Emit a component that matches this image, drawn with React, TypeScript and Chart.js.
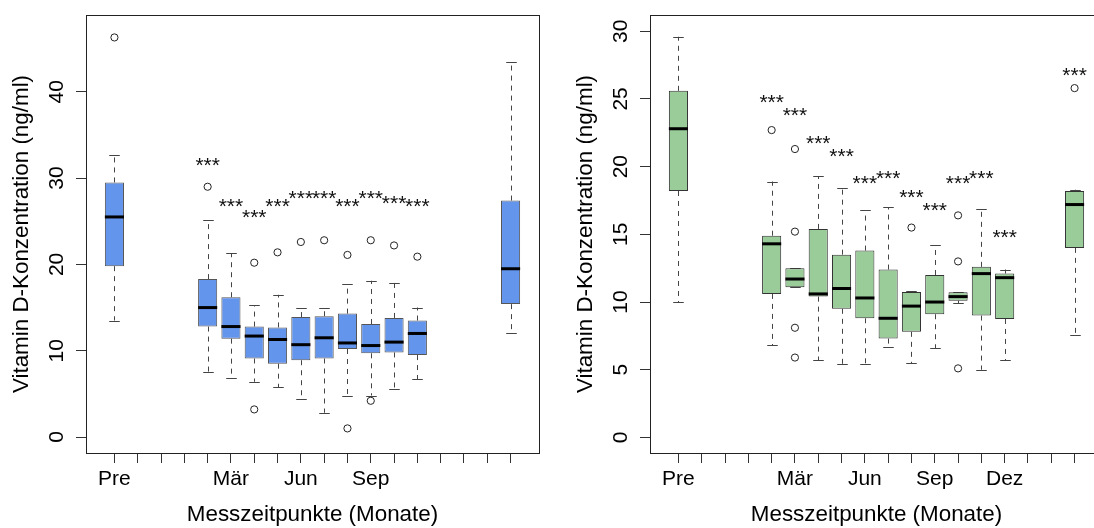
import React, { useEffect, useRef } from 'react';
import { Chart, registerables } from 'chart.js';

Chart.register(...registerables);

const FONT = "'Liberation Sans', Arial, Helvetica, sans-serif";
const TICK_SIZE = 21;
const TITLE_SIZE = 22.4;
const STAR_SIZE = 21;

const yTitle = 'Vitamin D-Konzentration (ng/ml)';
const xTitle = 'Messzeitpunkte (Monate)';

// x tick positions (1..18) and their labels
const xTickPositions = [1, 2, 3, 4, 5, 6, 7, 8, 9, 10, 11, 12, 13, 14, 15, 16, 17, 18];
const leftTickLabels = ['Pre', '', '', '', '', 'Mär', '', '', 'Jun', '', '', 'Sep', '', '', '', '', '', ''];
const rightTickLabels = ['Pre', '', '', '', '', 'Mär', '', '', 'Jun', '', '', 'Sep', '', '', 'Dez', '', '', ''];
const leftYTicks = [0, 10, 20, 30, 40];
const rightYTicks = [0, 5, 10, 15, 20, 25, 30];

// ---- Left panel (blue) ----
const leftPositions = [1, 5, 6, 7, 8, 9, 10, 11, 12, 13, 14, 18];
const leftWhiskerLow = [13.5, 7.5, 6.8, 6.4, 5.8, 4.4, 2.8, 4.7, 4.8, 5.6, 6.7, 12.0];
const leftQ1 = [19.8, 12.8, 11.4, 9.1, 8.5, 8.9, 9.1, 10.2, 9.7, 9.8, 9.5, 15.4];
const leftMedian = [25.5, 15.0, 12.8, 11.7, 11.3, 10.7, 11.5, 10.9, 10.6, 11.0, 12.0, 19.5];
const leftQ3 = [29.5, 18.3, 16.2, 12.8, 12.7, 13.9, 14.0, 14.3, 13.1, 13.8, 13.5, 27.4];
const leftWhiskerHigh = [32.7, 25.1, 21.3, 15.3, 16.5, 15.0, 15.0, 17.7, 18.1, 17.9, 15.0, 43.4];
const leftOutlierPos = [1, 5, 7, 7, 8, 9, 10, 11, 11, 12, 12, 13, 14];
const leftOutlierVal = [46.3, 29.0, 20.2, 3.2, 21.4, 22.6, 22.8, 21.1, 1.0, 22.8, 4.2, 22.2, 20.9];
const leftStarPos = [5, 6, 7, 8, 9, 10, 11, 12, 13, 14];
const leftStarVal = [31.9, 27.1, 25.9, 27.1, 28.1, 28.1, 27.1, 28.1, 27.5, 27.1];

// ---- Right panel (green) ----
const rightPositions = [1, 5, 6, 7, 8, 9, 10, 11, 12, 13, 14, 15, 18];
const rightWhiskerLow = [10.0, 6.8, 11.1, 5.7, 5.4, 5.4, 6.7, 5.5, 6.6, 9.9, 5.0, 5.7, 7.6];
const rightQ1 = [18.2, 10.6, 11.1, 10.4, 9.5, 8.8, 7.3, 7.8, 9.1, 10.1, 9.0, 8.75, 14.0];
const rightMedian = [22.8, 14.3, 11.7, 10.6, 11.0, 10.3, 8.8, 9.7, 10.0, 10.4, 12.1, 11.8, 17.2];
const rightQ3 = [25.6, 14.9, 12.5, 15.4, 13.5, 13.8, 12.4, 10.75, 12.0, 10.72, 12.6, 12.1, 18.2];
const rightWhiskerHigh = [29.6, 18.9, 12.5, 19.3, 18.4, 16.8, 17.0, 10.8, 14.2, 10.75, 16.9, 12.4, 18.3];
const rightOutlierPos = [5, 6, 6, 6, 6, 11, 13, 13, 13, 18];
const rightOutlierVal = [22.7, 21.3, 15.2, 8.1, 5.9, 15.5, 16.4, 13.0, 5.1, 25.8];
const rightStarPos = [5, 6, 7, 8, 9, 10, 11, 12, 13, 14, 15, 18];
const rightStarVal = [25.0, 24.0, 22.0, 21.0, 19.0, 19.4, 18.0, 17.0, 19.0, 19.4, 15.0, 27.0];

type Panel = {
  positions: number[];
  low: number[];
  q1: number[];
  med: number[];
  q3: number[];
  high: number[];
  outPos: number[];
  outVal: number[];
  starPos: number[];
  starVal: number[];
  yMin: number;
  yMax: number;
  yTicks: number[];
  tickLabels: string[];
  fill: string;
  border: string;
  whisker: string;
};

const leftPanel: Panel = {
  positions: leftPositions, low: leftWhiskerLow, q1: leftQ1, med: leftMedian, q3: leftQ3, high: leftWhiskerHigh,
  outPos: leftOutlierPos, outVal: leftOutlierVal, starPos: leftStarPos, starVal: leftStarVal,
  yMin: -1.85, yMax: 48.9, yTicks: leftYTicks, tickLabels: leftTickLabels,
  fill: '#6495ED', border: '#555555', whisker: '#444444',
};

const rightPanel: Panel = {
  positions: rightPositions, low: rightWhiskerLow, q1: rightQ1, med: rightMedian, q3: rightQ3, high: rightWhiskerHigh,
  outPos: rightOutlierPos, outVal: rightOutlierVal, starPos: rightStarPos, starVal: rightStarVal,
  yMin: -1.15, yMax: 31.2, yTicks: rightYTicks, tickLabels: rightTickLabels,
  fill: '#99CC99', border: '#333333', whisker: '#444444',
};

function line(ctx: CanvasRenderingContext2D, x1: number, y1: number, x2: number, y2: number) {
  ctx.beginPath();
  ctx.moveTo(x1, y1);
  ctx.lineTo(x2, y2);
  ctx.stroke();
}

function makePlugin(p: Panel) {
  return {
    id: 'boxExtras',
    beforeDatasetsDraw(chart: any) {
      const ctx: CanvasRenderingContext2D = chart.ctx;
      const ys = chart.scales.y;
      const meta = chart.getDatasetMeta(0);
      ctx.save();
      ctx.strokeStyle = p.whisker;
      ctx.lineWidth = 1;
      meta.data.forEach((bar: any, i: number) => {
        const { x: cx, width } = bar.getProps(['x', 'width'], true);
        const px = Math.round(cx) + 0.5;
        const yLow = ys.getPixelForValue(p.low[i]);
        const yQ1 = ys.getPixelForValue(p.q1[i]);
        const yQ3 = ys.getPixelForValue(p.q3[i]);
        const yHigh = ys.getPixelForValue(p.high[i]);
        ctx.setLineDash([5, 5]);
        line(ctx, px, yQ3, px, yHigh);
        line(ctx, px, yQ1, px, yLow);
        ctx.setLineDash([]);
        const cw = width * 0.5 + 1;
        line(ctx, px - cw / 2, Math.round(yHigh) + 0.5, px + cw / 2, Math.round(yHigh) + 0.5);
        line(ctx, px - cw / 2, Math.round(yLow) + 0.5, px + cw / 2, Math.round(yLow) + 0.5);
      });
      ctx.restore();
    },
    afterDatasetsDraw(chart: any) {
      const ctx: CanvasRenderingContext2D = chart.ctx;
      const xs = chart.scales.x;
      const ys = chart.scales.y;
      const meta = chart.getDatasetMeta(0);
      ctx.save();
      // medians
      ctx.strokeStyle = '#000000';
      ctx.lineWidth = 3;
      ctx.lineCap = 'butt';
      meta.data.forEach((bar: any, i: number) => {
        const { x: cx, width } = bar.getProps(['x', 'width'], true);
        const ym = ys.getPixelForValue(p.med[i]);
        line(ctx, cx - width / 2, ym, cx + width / 2, ym);
      });
      // significance stars
      ctx.font = `${STAR_SIZE}px ${FONT}`;
      ctx.fillStyle = '#111111';
      ctx.textAlign = 'center';
      ctx.textBaseline = 'alphabetic';
      const m = ctx.measureText('***');
      const asc = m.actualBoundingBoxAscent;
      const desc = m.actualBoundingBoxDescent;
      p.starPos.forEach((pos, i) => {
        const sx = xs.getPixelForValue(pos);
        const sy = ys.getPixelForValue(p.starVal[i]);
        ctx.fillText('***', sx, sy + (asc - desc) / 2);
      });
      // frame
      const a = chart.chartArea;
      ctx.strokeStyle = '#222222';
      ctx.lineWidth = 1;
      ctx.strokeRect(Math.round(a.left) + 0.5, Math.round(a.top) + 0.5, Math.round(a.right - a.left), Math.round(a.bottom - a.top));
      ctx.restore();
    },
  };
}

function makeConfig(p: Panel): any {
  const tickFont = { family: FONT, size: TICK_SIZE };
  const titleFont = { family: FONT, size: TITLE_SIZE };
  return {
    type: 'bar',
    data: {
      datasets: [
        {
          type: 'bar',
          data: p.positions.map((pos, i) => ({ x: pos, y: [p.q1[i], p.q3[i]] })),
          backgroundColor: p.fill,
          borderColor: p.border,
          borderWidth: 1,
          borderSkipped: false,
          barPercentage: 0.82,
          categoryPercentage: 1,
        },
        {
          type: 'scatter',
          data: p.outPos.map((pos, i) => ({ x: pos, y: p.outVal[i] })),
          pointStyle: 'circle',
          pointRadius: 3.6,
          pointBorderWidth: 1,
          pointBorderColor: '#222222',
          pointBackgroundColor: 'rgba(0,0,0,0)',
          showLine: false,
        },
      ],
    },
    options: {
      animation: false,
      responsive: false,
      devicePixelRatio: 1,
      events: [],
      layout: { padding: { left: 0, right: 25, top: 15, bottom: 0 } },
      plugins: {
        legend: { display: false },
        tooltip: { enabled: false },
        title: { display: false },
      },
      scales: {
        x: {
          type: 'linear',
          min: -0.22,
          max: 19.22,
          bounds: 'data',
          offset: false,
          afterBuildTicks: (s: any) => {
            s.ticks = xTickPositions.map((v) => ({ value: v }));
          },
          afterFit: (s: any) => {
            s.height = 75;
            s.paddingLeft = 0;
            s.paddingRight = 0;
          },
          grid: {
            display: true,
            drawOnChartArea: false,
            drawTicks: true,
            tickLength: 10,
            color: '#333333',
            offset: false,
          },
          border: { display: false },
          ticks: {
            autoSkip: false,
            maxRotation: 0,
            minRotation: 0,
            padding: 4,
            color: '#000000',
            font: tickFont,
            callback: (_v: any, index: number) => p.tickLabels[index] ?? '',
          },
          title: { display: true, text: xTitle, color: '#000000', font: titleFont, padding: { top: 0, bottom: 0 } },
        },
        y: {
          type: 'linear',
          min: p.yMin,
          max: p.yMax,
          bounds: 'data',
          afterBuildTicks: (s: any) => {
            s.ticks = p.yTicks.map((v) => ({ value: v }));
          },
          afterFit: (s: any) => {
            s.width = 86;
            s.paddingTop = 0;
            s.paddingBottom = 0;
          },
          grid: {
            display: true,
            drawOnChartArea: false,
            drawTicks: true,
            tickLength: 10,
            color: '#333333',
          },
          border: { display: false },
          ticks: {
            minRotation: 90,
            maxRotation: 90,
            crossAlign: 'center',
            padding: 7.5,
            color: '#000000',
            font: tickFont,
            callback: (v: any) => String(v),
          },
          title: { display: true, text: yTitle, color: '#000000', font: titleFont, padding: { top: 8.1, bottom: 0 } },
        },
      },
    },
    plugins: [makePlugin(p)],
  };
}

function PanelChart({ panel, left }: { panel: Panel; left: number }) {
  const ref = useRef<HTMLCanvasElement>(null);
  useEffect(() => {
    const chart = new Chart(ref.current as HTMLCanvasElement, makeConfig(panel));
    return () => chart.destroy();
  }, [panel]);
  return (
    <canvas
      ref={ref}
      width={564}
      height={528}
      style={{ position: 'absolute', left, top: 0, width: 564, height: 528, display: 'block' }}
    />
  );
}

export default function App() {
  return (
    <div
      style={{
        position: 'absolute',
        left: 0,
        top: 0,
        width: 1094,
        height: 528,
        overflow: 'hidden',
        background: '#ffffff',
      }}
    >
      <PanelChart panel={leftPanel} left={0} />
      <PanelChart panel={rightPanel} left={564} />
    </div>
  );
}
